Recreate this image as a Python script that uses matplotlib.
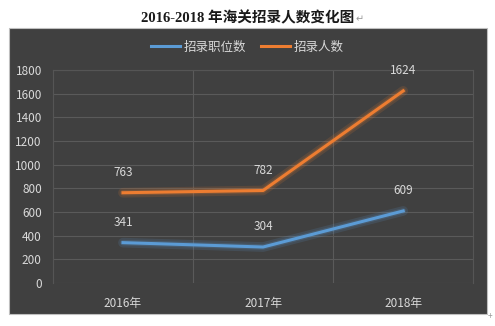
import matplotlib.pyplot as plt
from matplotlib.patches import Rectangle

plt.rcParams['font.family'] = ['Noto Sans CJK SC', 'DejaVu Sans']

years = ['2016年', '2017年', '2018年']
positions = [341, 304, 609]
people = [763, 782, 1624]
series_names = ['招录职位数', '招录人数']
colors = ['#5B9BD5', '#ED7D31']
yticks = [0, 200, 400, 600, 800, 1000, 1200, 1400, 1600, 1800]

txt = '#D9D9D9'
bg = '#404040'

fig = plt.figure(figsize=(4.95, 3.26), dpi=100)
fig.patch.set_facecolor('white')

# dark chart panel
fig.patches.append(Rectangle((0.018, 0.037), 0.966, 0.877, transform=fig.transFigure,
                             facecolor=bg, edgecolor='#BFBFBF', linewidth=0.8, zorder=-10))

fig.text(0.5, 0.945, '2016-2018 年海关招录人数变化图', ha='center', va='center',
         fontsize=10.5, fontweight='bold', color='#1a1a1a',
         family=['Liberation Serif', 'Noto Sans CJK SC'])
fig.text(0.718, 0.94, '↵', ha='left', va='center', fontsize=7, color='#999999',
         family=['DejaVu Sans'])
fig.text(0.99, 0.03, '+', ha='center', va='center', fontsize=6, color='#999999')

ax = fig.add_axes([0.107, 0.132, 0.849, 0.653])
ax.set_facecolor('none')
x = range(len(years))
for vals, c, name in zip([positions, people], colors, series_names):
    # soft glow under the line
    ax.plot(x, vals, color=c, linewidth=7, alpha=0.15, solid_capstyle='round', zorder=2)
    ax.plot(x, vals, color=c, linewidth=4, alpha=0.2, solid_capstyle='round', zorder=2)
    ax.plot(x, vals, color=c, linewidth=2.2, label=name, zorder=3)
    for xi, v in zip(x, vals):
        ax.annotate(str(v), (xi, v), xytext=(0, 10), textcoords='offset points',
                    ha='center', va='bottom', fontsize=8.5, color=txt)

ax.set_xlim(-0.5, 2.5)
ax.set_ylim(0, 1800)
ax.set_yticks(yticks)
ax.set_xticks(list(x))
ax.set_xticklabels(years)
ax.tick_params(axis='both', length=0, colors=txt, labelsize=8.5)
ax.tick_params(axis='x', pad=10)
ax.tick_params(axis='y', pad=8)
for b in [0.5, 1.5]:
    ax.axvline(b, color='#5A5A5A', linewidth=0.8, zorder=1)
ax.yaxis.grid(True, color='#5A5A5A', linewidth=0.8, zorder=1)
ax.set_axisbelow(True)
for s in ax.spines.values():
    s.set_color('#555555')
    s.set_linewidth(0.8)
ax.spines['bottom'].set_visible(False)

leg = fig.legend(loc='center', bbox_to_anchor=(0.5, 0.855), ncol=2, frameon=False,
                 fontsize=9, handlelength=2.3, columnspacing=1.2, handletextpad=0.3)
for t in leg.get_texts():
    t.set_color(txt)

fig.savefig('out.png', dpi=100, facecolor='white')
